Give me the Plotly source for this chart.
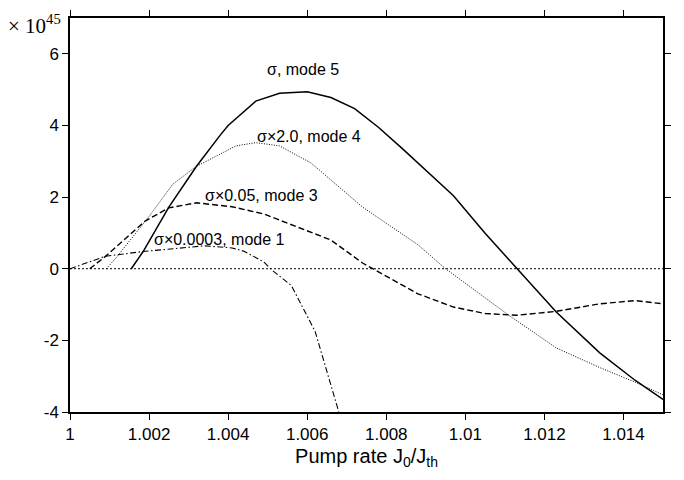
import plotly.graph_objects as go

# Mode 5 (sigma)
x_m5 = [1.00155, 1.00185, 1.0025, 1.0032, 1.0038, 1.0040, 1.0047, 1.0053, 1.0060, 1.0066,
        1.0072, 1.0078, 1.0084, 1.0090, 1.0097, 1.0105, 1.0113, 1.0123, 1.0134, 1.0143, 1.015]
y_m5 = [0, 0.48, 1.72, 2.86, 3.73, 4.0, 4.68, 4.9, 4.94, 4.78,
        4.47, 3.95, 3.36, 2.75, 2.04, 0.99, 0, -1.21, -2.35, -3.12, -3.65]

# Mode 4 (sigma x 2.0)
x_m4 = [1.00092, 1.0012, 1.0020, 1.0026, 1.0032, 1.0042, 1.0047, 1.0053, 1.0061, 1.0074,
        1.0088, 1.0095, 1.0111, 1.0123, 1.0134, 1.0143, 1.015]
y_m4 = [0, 0.35, 1.46, 2.36, 2.86, 3.43, 3.52, 3.43, 2.95, 1.72,
        0.67, 0, -1.30, -2.21, -2.76, -3.17, -3.52]

# Mode 3 (sigma x 0.05)
x_m3 = [1.0005, 1.00088, 1.0019, 1.0025, 1.0032, 1.0041, 1.0049, 1.0066, 1.0074, 1.0088,
        1.0097, 1.0105, 1.0113, 1.0123, 1.0134, 1.0143, 1.015]
y_m3 = [0, 0.33, 1.33, 1.70, 1.84, 1.73, 1.53, 0.80, 0.16, -0.70,
        -1.07, -1.25, -1.30, -1.19, -0.98, -0.89, -0.98]

# Mode 1 (sigma x 0.0003)
x_m1 = [1.0, 1.0009, 1.00185, 1.0034, 1.0041, 1.0044, 1.0049, 1.0051, 1.0056, 1.0062, 1.0068]
y_m1 = [0, 0.35, 0.48, 0.64, 0.58, 0.49, 0.19, -0.03, -0.47, -1.75, -4.0]

x_ticks = [1.0, 1.002, 1.004, 1.006, 1.008, 1.01, 1.012, 1.014]
x_tick_labels = ["1", "1.002", "1.004", "1.006", "1.008", "1.01", "1.012", "1.014"]
y_ticks = [-4, -2, 0, 2, 4, 6]
y_tick_labels = ["-4", "-2", "0", "2", "4", "6"]

labels = ["σ, mode 5", "σ×2.0, mode 4", "σ×0.05, mode 3", "σ×0.0003, mode 1"]
label_x = [1.0059, 1.00604, 1.00484, 1.00378]
label_y = [5.56, 3.7, 2.05, 0.82]

fig = go.Figure()
fig.add_trace(go.Scatter(x=[1.0, 1.015], y=[0, 0], mode="lines",
                         line=dict(color="black", width=1, dash="2px,2px"), showlegend=False))
fig.add_trace(go.Scatter(x=x_m5, y=y_m5, mode="lines",
                         line=dict(color="black", width=1.5), showlegend=False))
fig.add_trace(go.Scatter(x=x_m4, y=y_m4, mode="lines",
                         line=dict(color="black", width=1, dash="1px,1.5px"), showlegend=False))
fig.add_trace(go.Scatter(x=x_m3, y=y_m3, mode="lines",
                         line=dict(color="black", width=1.4, dash="6px,3px"), showlegend=False))
fig.add_trace(go.Scatter(x=x_m1, y=y_m1, mode="lines",
                         line=dict(color="black", width=1.1, dash="6px,2.5px,1.5px,2.5px"),
                         showlegend=False))

for t, lx, ly in zip(labels, label_x, label_y):
    fig.add_annotation(x=lx, y=ly, text=t, showarrow=False,
                       font=dict(family="Liberation Sans, Arial", size=16, color="black"))

fig.add_annotation(xref="paper", yref="paper", x=-0.012, y=1.0, xanchor="right", yanchor="bottom",
                   yshift=-22, text="× 10<sup>45</sup>", showarrow=False,
                   font=dict(family="Liberation Serif, Times New Roman", size=21, color="black"))

axis_common = dict(showline=True, linecolor="black", linewidth=1.5, mirror="ticks",
                   ticks="outside", ticklen=6, tickcolor="black", showgrid=False, zeroline=False,
                   tickfont=dict(family="Liberation Sans, Arial", size=17, color="black"))

fig.update_xaxes(range=[1.0, 1.015], tickvals=x_ticks, ticktext=x_tick_labels,
                 title=dict(text="Pump rate J<sub>0</sub>/J<sub>th</sub>",
                            font=dict(family="Liberation Sans, Arial", size=20, color="black"),
                            standoff=6),
                 **axis_common)
fig.update_yaxes(range=[-4, 7], tickvals=y_ticks, ticktext=y_tick_labels, **axis_common)

fig.update_layout(width=684, height=480, plot_bgcolor="white", paper_bgcolor="white",
                  margin=dict(l=70, r=21, t=10, b=68), showlegend=False)

fig.write_html("out.html")
